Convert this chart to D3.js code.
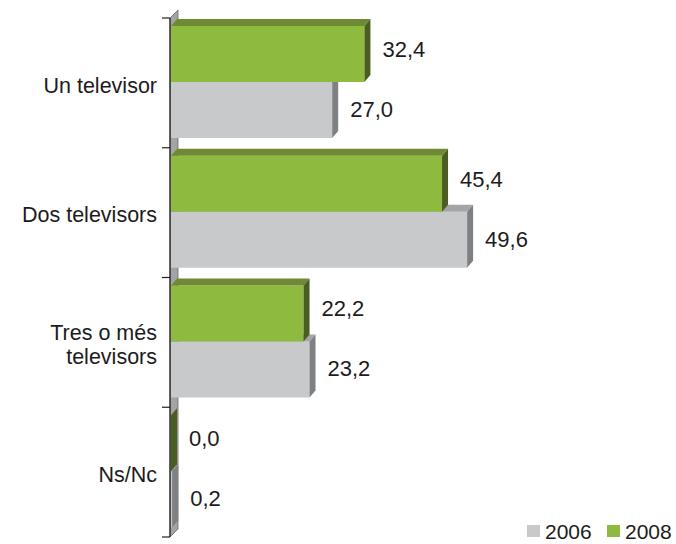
<!DOCTYPE html>
<html>
<head>
<meta charset="utf-8">
<script src="https://cdn.jsdelivr.net/npm/d3@7/dist/d3.min.js"></script>
<style>
  body { margin: 0; background: #fff; }
  svg { display: block; }
  text { font-family: "Liberation Sans", Arial, sans-serif; fill: #1e1b1c; }
</style>
</head>
<body>
<svg id="chart" width="676" height="544"></svg>
<script>
const categories = ["Un televisor", "Dos televisors", "Tres o més\ntelevisors", "Ns/Nc"];
const seriesNames = ["2006", "2008"];
const values2006 = [27.0, 49.6, 23.2, 0.2];
const values2008 = [32.4, 45.4, 22.2, 0.0];

const colors = {
  "2008": { front: "#8dba3f", top: "#6e8a35", side: "#4b5e22" },
  "2006": { front: "#c8c9cb", top: "#a4a5a8", side: "#7f8083" }
};

const svg = d3.select("#chart");
const fmt = v => d3.format(".1f")(v).replace(".", ",");

const x = d3.scaleLinear().domain([0, 50]).range([171, 469.5]);
const y = d3.scaleBand().domain(categories).range([18, 537]).paddingInner(0).paddingOuter(0);
const inner = d3.scaleBand().domain(["2008", "2006"]).range([8, 120]).padding(0);
const dx = 6, dy = 7;
const x0 = x(0);

// wall
const wallTop = y.range()[0], wallBot = y.range()[1];
svg.append("polygon")
  .attr("points", [[170, wallTop], [178, wallTop - 8], [178, wallBot - 8], [170, wallBot]].join(" "))
  .attr("fill", "#a3a3a3").attr("stroke", "#6b6b6b").attr("stroke-width", 0.8);
svg.append("line").attr("x1", 170).attr("x2", 170).attr("y1", wallTop).attr("y2", wallBot)
  .attr("stroke", "#231f20").attr("stroke-width", 1.2);

// ticks
const tickYs = categories.map(c => y(c)).concat([wallBot]);
svg.selectAll(".tick").data(tickYs).enter().append("line")
  .attr("x1", 162).attr("x2", 170).attr("y1", d => d).attr("y2", d => d)
  .attr("stroke", "#231f20").attr("stroke-width", 1.2);

// bars
const rows = [];
categories.forEach((c, i) => {
  rows.push({ cat: c, s: "2006", v: values2006[i] });
  rows.push({ cat: c, s: "2008", v: values2008[i] });
});

rows.forEach(d => {
  const yt = y(d.cat) + inner(d.s);
  const h = inner.bandwidth();
  const x1 = x(d.v);
  const col = colors[d.s];
  const g = svg.append("g");
  g.append("rect").attr("x", x0).attr("y", yt).attr("width", Math.max(0, x1 - x0)).attr("height", h)
    .attr("fill", col.front);
  g.append("polygon")
    .attr("points", [[x0, yt], [x0 + dx, yt - dy], [x1 + dx, yt - dy], [x1, yt]].join(" "))
    .attr("fill", col.top);
  g.append("polygon")
    .attr("points", [[x1, yt], [x1 + dx, yt - dy], [x1 + dx, yt + h - dy], [x1, yt + h]].join(" "))
    .attr("fill", col.side);
});

// value labels
rows.forEach(d => {
  const yt = y(d.cat) + inner(d.s);
  const cy = yt + inner.bandwidth() / 2 + (d.s === "2008" ? -5 : -1);
  svg.append("text")
    .attr("x", x(d.v) + 18).attr("y", cy).attr("dy", "0.36em")
    .attr("font-size", 22).text(fmt(d.v));
});

// category labels
categories.forEach(c => {
  const lines = c.split("\n");
  const cy = y(c) + y.bandwidth() / 2 + 2;
  const lh = 24;
  const t = svg.append("text").attr("text-anchor", "end").attr("font-size", 21.5);
  lines.forEach((ln, k) => {
    t.append("tspan").attr("x", 157)
      .attr("y", cy + (k - (lines.length - 1) / 2) * lh)
      .attr("dy", "0.36em").text(ln);
  });
});

// legend
const legendX = [527, 607];
seriesNames.forEach((s, i) => {
  svg.append("rect").attr("x", legendX[i]).attr("y", 525).attr("width", 13).attr("height", 12)
    .attr("fill", colors[s].front);
  svg.append("text").attr("x", legendX[i] + 18).attr("y", 538.5).attr("font-size", 21).text(s);
});
</script>
</body>
</html>
